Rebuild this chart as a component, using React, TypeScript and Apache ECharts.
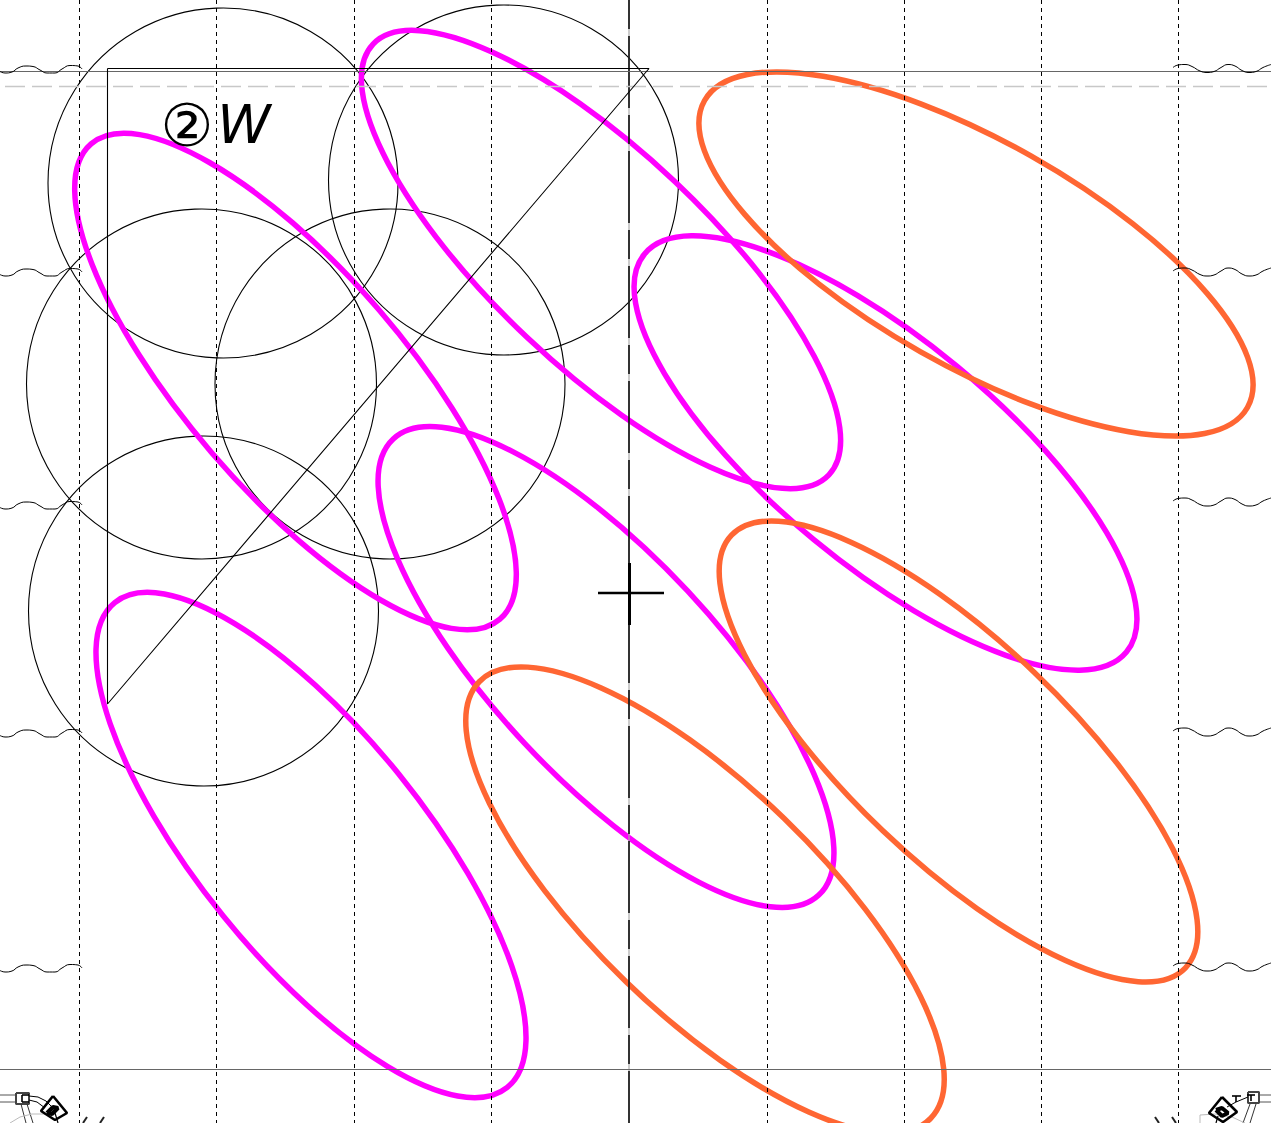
import React, { useEffect, useRef } from "react";
import * as echarts from "echarts";

const W = 1271;
const H = 1123;

const MAGENTA = "#ff00ff";
const ORANGE = "#ff6633";

// ellipses: [cx, cy, semi-major, semi-minor, angle in degrees]
const magentaEllipses = [
  [295.5, 381.5, 313.5, 110, 49.3],
  [311, 845, 312, 112.9, 51],
  [601, 259.5, 313.5, 107.4, 43.4],
  [606, 667, 312, 111.6, 47],
  [885.5, 453, 312.5, 112.5, 39.6],
];
const orangeEllipses = [
  [976, 254, 312, 112.5, 29.5],
  [705, 900, 314, 113.6, 44.06],
  [958.5, 751.5, 313.5, 109.6, 43.6],
];
// circles: [cx, cy, r]
const circles = [
  [223, 183, 175],
  [503.5, 180, 175],
  [201.5, 384, 175],
  [390, 384, 175],
  [203.5, 611, 175],
];
const triangle = [
  [107.5, 68.5],
  [649, 68.5],
  [107.5, 704],
  [107.5, 68.5],
];
const dashedColumns = [79.5, 216.5, 354.5, 491.5, 767.5, 904.5, 1041.5, 1178.5];
const centerColumn = 629;
const solidRows = [71.5, 1069.5];
const dashedRow = 86.5;
const crossH = [[598, 593], [664, 593]];
const crossV = [[629.5, 563], [629.5, 625]];

const leftWaveDx = [0, 5, 12, 18, 26, 33, 40, 47, 55, 62, 70, 78, 82];
const leftWaveDy = [2.5, 4, 3, -1, -3, -2.5, 1, 4, 4, 0, -3.5, -3, 0];
const leftWaveRows = [69, 272, 505, 733, 968];
const rightWaveDx = [1173, 1178, 1185, 1192, 1200, 1207, 1214, 1221, 1228, 1235, 1242, 1249, 1256, 1263, 1271];
const rightWaveDy = [-1, -3.5, -4, -2, 2.5, 4, 3, -1, -4, -2.5, 2, 4, 3, -1, -4];
const rightWaveRows = [68.5, 272, 502, 732, 967];

// corner details: [colour, width, points]
const cornerStrokes: [string, number, number[][]][] = [
  ["#555555", 1, [[0, 1095], [16, 1095]]],
  ["#555555", 1, [[0, 1102], [16, 1102]]],
  ["#444444", 2, [[16, 1093], [29, 1093], [29, 1104], [16, 1104], [16, 1093]]],
  ["#000000", 1.6, [[22, 1095], [29, 1095]]],
  ["#000000", 1.6, [[22, 1102], [29, 1102]]],
  ["#000000", 1.6, [[22, 1095], [22, 1102]]],
  ["#000000", 1, [[29, 1096], [38, 1097], [46, 1101], [52, 1107]]],
  ["#000000", 1, [[29, 1100], [37, 1102], [45, 1108]]],
  ["#333333", 1, [[21, 1104], [26, 1123]]],
  ["#333333", 1, [[27, 1104], [33, 1123]]],
  ["#bbbbbb", 1, [[10, 1123], [20, 1117], [32, 1114], [45, 1114]]],
  ["#000000", 2.6, [[53, 1096], [67, 1113], [55, 1120], [41, 1111], [53, 1096]]],
  ["#000000", 4, [[47, 1113], [52, 1114], [58, 1108], [53, 1107], [47, 1113]]],
  ["#000000", 1.2, [[55, 1113], [58, 1123]]],
  ["#222222", 2, [[83, 1123], [87, 1117]]],
  ["#222222", 2, [[100, 1123], [104, 1117]]],
  ["#555555", 1, [[1259, 1095], [1271, 1095]]],
  ["#555555", 1, [[1259, 1102], [1271, 1102]]],
  ["#444444", 2, [[1248, 1092], [1259, 1092], [1259, 1103], [1248, 1103], [1248, 1092]]],
  ["#000000", 1.6, [[1251, 1095], [1251, 1101]]],
  ["#000000", 1.6, [[1247, 1095], [1255, 1095]]],
  ["#000000", 1.6, [[1232, 1096], [1241, 1096]]],
  ["#000000", 1.6, [[1236, 1096], [1236, 1102]]],
  ["#000000", 1, [[1248, 1097], [1236, 1102], [1227, 1107]]],
  ["#333333", 1, [[1250, 1104], [1243, 1123]]],
  ["#333333", 1, [[1256, 1104], [1250, 1123]]],
  ["#bbbbbb", 1, [[1200, 1123], [1200, 1115], [1215, 1114], [1232, 1117], [1245, 1123]]],
  ["#000000", 2.6, [[1222, 1097], [1237, 1112], [1223, 1122], [1209, 1113], [1222, 1097]]],
  ["#000000", 4, [[1216, 1110], [1222, 1108], [1228, 1113], [1222, 1116], [1216, 1110]]],
  ["#000000", 1.2, [[1218, 1116], [1216, 1123]]],
  ["#222222", 2, [[1155, 1117], [1159, 1123]]],
  ["#222222", 2, [[1172, 1117], [1176, 1123]]],
];

const labelCircled = { text: "②", x: 187, y: 125, size: 59 };
const labelLetter = { text: "W", x: 244, y: 124, size: 54 };

function plainLine(data: number[][], color: string, width: number, dash?: any, smooth?: boolean, dashOffset?: number) {
  return {
    type: "line",
    data,
    symbol: "none",
    silent: true,
    smooth: smooth ? 0.5 : false,
    lineStyle: { color, width, type: dash || "solid", cap: "butt", dashOffset: dashOffset || 0 },
  };
}

function ellipseSeries(list: number[][], color: string, width: number) {
  return {
    type: "custom",
    silent: true,
    clip: true,
    data: list,
    renderItem: (_p: any, api: any) => {
      const c = api.coord([api.value(0), api.value(1)]);
      return {
        type: "ellipse",
        x: c[0],
        y: c[1],
        rotation: (-api.value(4) * Math.PI) / 180,
        shape: { cx: 0, cy: 0, rx: api.value(2), ry: api.value(3) },
        style: { fill: "none", stroke: color, lineWidth: width },
      };
    },
  };
}

export default function App() {
  const ref = useRef<HTMLDivElement>(null);
  useEffect(() => {
    const chart = echarts.init(ref.current!, undefined, { renderer: "svg" });
    const series: any[] = [];
    dashedColumns.forEach((x) =>
      series.push(plainLine([[x, 0], [x, H]], "#000000", 1, [4, 4]))
    );
    series.push(plainLine([[centerColumn, 0], [centerColumn, H]], "#aaaaaa", 1.2));
    series.push(plainLine([[centerColumn, 0], [centerColumn, H]], "#000000", 1.5, [29, 7, 72, 7]));
    solidRows.forEach((y) => series.push(plainLine([[0, y], [W, y]], "#666666", 1)));
    series.push(plainLine([[0, dashedRow], [W, dashedRow]], "#c8c8c8", 1.5, [20, 7], false, 22.3));
    leftWaveRows.forEach((y) =>
      series.push(plainLine(leftWaveDx.map((x, i) => [x, y + leftWaveDy[i]]), "#000000", 1, undefined, true))
    );
    rightWaveRows.forEach((y) =>
      series.push(plainLine(rightWaveDx.map((x, i) => [x, y + rightWaveDy[i]]), "#000000", 1, undefined, true))
    );
    series.push(plainLine(triangle, "#000000", 1.1));
    series.push(plainLine(crossH, "#000000", 2.5));
    series.push(plainLine(crossV, "#000000", 3));
    series.push({
      type: "custom",
      silent: true,
      data: circles,
      renderItem: (_p: any, api: any) => {
        const c = api.coord([api.value(0), api.value(1)]);
        return {
          type: "circle",
          shape: { cx: c[0], cy: c[1], r: api.value(2) },
          style: { fill: "none", stroke: "#000000", lineWidth: 1.1 },
        };
      },
    });
    cornerStrokes.forEach(([color, width, pts]) => series.push(plainLine(pts, color, width)));
    series.push(ellipseSeries(magentaEllipses, MAGENTA, 5.5));
    series.push(ellipseSeries(orangeEllipses, ORANGE, 5.5));
    series.push({
      type: "custom",
      silent: true,
      data: [[labelCircled.x, labelCircled.y, 0], [labelLetter.x, labelLetter.y, 1]],
      renderItem: (_p: any, api: any) => {
        const c = api.coord([api.value(0), api.value(1)]);
        const isLetter = api.value(2) === 1;
        const label = isLetter ? labelLetter : labelCircled;
        return {
          type: "text",
          x: c[0],
          y: c[1],
          style: {
            text: label.text,
            fill: "#000000",
            font: `${isLetter ? "italic " : ""}${label.size}px "DejaVu Sans"`,
            align: "center",
            verticalAlign: "middle",
          },
        };
      },
    });
    chart.setOption({
      animation: false,
      backgroundColor: "#ffffff",
      grid: { left: 0, right: 0, top: 0, bottom: 0 },
      xAxis: { type: "value", min: 0, max: W, show: false },
      yAxis: { type: "value", min: 0, max: H, inverse: true, show: false },
      series,
    });
    return () => chart.dispose();
  }, []);
  return (
    <div
      ref={ref}
      style={{ position: "absolute", left: 0, top: 0, width: W, height: H, overflow: "hidden" }}
    />
  );
}
